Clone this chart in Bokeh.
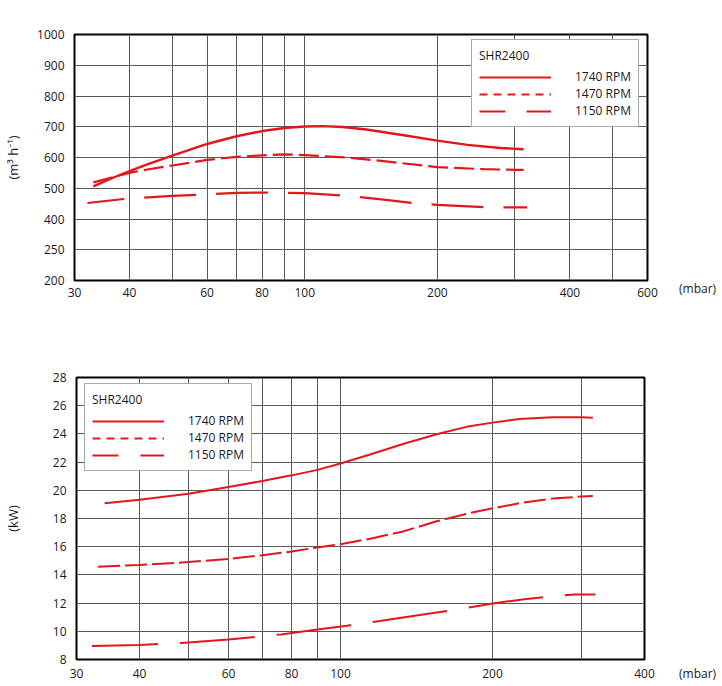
from bokeh.plotting import figure
from bokeh.models import FixedTicker, Legend, LegendItem, Div
from bokeh.layouts import column, row
from bokeh.embed import file_html
from bokeh.resources import INLINE

# flow curves (pressure in mbar, flow in m3/h)
flow_p_1740 = [33.1, 36.8, 40, 43.9, 50, 60, 70, 80, 90, 100, 110, 122, 138, 165, 200, 234, 278, 314]
flow_1740 = [506, 535, 556, 578, 606, 644, 669, 686, 696, 701, 702, 699, 691, 674, 655, 641, 631, 627]
flow_p_1470 = [33.1, 40, 43.9, 50, 60, 70, 80, 90, 100, 127, 151, 200, 255, 300, 314]
flow_1470 = [519, 550, 561, 574, 592, 602, 607, 610, 608, 599, 588, 569, 562, 560, 560]
flow_p_1150 = [32.1, 38.8, 50, 60, 70, 80, 100, 123, 151, 179, 200, 260, 300, 320]
flow_1150 = [452, 465, 475, 480, 485, 486, 484, 476, 463, 451, 446, 438, 438, 438]

# power curves (pressure in mbar, power in kW)
kw_p_1740 = [34.1, 40, 50, 60, 70, 80, 90, 100, 114, 133, 155, 180, 200, 226, 263, 300, 316]
kw_1740 = [19.08, 19.33, 19.76, 20.23, 20.66, 21.06, 21.45, 21.9, 22.52, 23.28, 23.98, 24.55, 24.8, 25.06, 25.18, 25.18, 25.15]
kw_p_1470 = [33.1, 40, 50, 60, 70, 80, 90, 100, 114, 133, 155, 180, 200, 226, 263, 300, 316]
kw_1470 = [14.58, 14.7, 14.91, 15.13, 15.4, 15.66, 15.95, 16.18, 16.55, 17.08, 17.8, 18.38, 18.72, 19.08, 19.41, 19.56, 19.6]
kw_p_1150 = [32.2, 40, 43.5, 48.4, 60, 68.6, 76.3, 90, 103, 119.6, 143.5, 169.6, 188.7, 200, 229, 262, 291, 320]
kw_1150 = [8.96, 9.03, 9.1, 9.17, 9.41, 9.62, 9.78, 10.12, 10.4, 10.73, 11.15, 11.55, 11.81, 11.97, 12.26, 12.47, 12.61, 12.61]

series_names = ["1740 RPM", "1470 RPM", "1150 RPM"]
model_name = "SHR2400"
x_unit = "(mbar)"

# tick values and labels
top_xticks = [30, 40, 50, 60, 70, 80, 90, 100, 200, 300, 400, 500, 600]
top_xlabels = ["30", "40", "", "60", "", "80", "", "100", "200", "", "400", "", "600"]
top_yticks = [200, 300, 400, 500, 600, 700, 800, 900, 1000]
top_ylabels = ["200", "250", "400", "500", "600", "700", "800", "900", "1000"]
bot_xticks = [30, 40, 50, 60, 70, 80, 90, 100, 200, 300, 400]
bot_xlabels = ["30", "40", "", "60", "", "80", "", "100", "200", "", "400"]
bot_yticks = [8, 10, 12, 14, 16, 18, 20, 22, 24, 26, 28]
bot_ylabels = [str(v) for v in bot_yticks]

RED = "#e3161d"
FONT = "Open Sans"
TXT = "#1a1a1a"
NAN = float("nan")


def style_axes(p, xticks, xlabels, yticks, ylabels, ylabel, label_standoff, x_standoff):
    p.xaxis.ticker = FixedTicker(ticks=xticks)
    p.xaxis.major_label_overrides = dict(zip(xticks, xlabels))
    p.yaxis.ticker = FixedTicker(ticks=yticks)
    p.yaxis.major_label_overrides = dict(zip(yticks, ylabels))
    p.yaxis.axis_label = ylabel
    p.yaxis.axis_label_standoff = label_standoff
    p.yaxis.axis_label_text_font = FONT
    p.yaxis.axis_label_text_font_size = "13px"
    p.yaxis.axis_label_text_font_style = "normal"
    p.yaxis.axis_label_text_color = TXT
    for ax in [p.xaxis, p.yaxis]:
        ax.axis_line_color = None
        ax.major_tick_out = 0
        ax.major_tick_in = 0
        ax.minor_tick_out = 0
        ax.minor_tick_in = 0
        ax.major_label_text_font = FONT
        ax.major_label_text_font_size = "12px"
        ax.major_label_text_color = TXT
    p.xaxis.major_label_standoff = x_standoff
    p.yaxis.major_label_standoff = 10
    p.grid.grid_line_color = "#5a5a5a"
    p.grid.grid_line_width = 1
    p.outline_line_color = "black"
    p.outline_line_width = 2


def add_legend(p, x, y, long_dash):
    # key lines only (nan data), so the key dashes can follow the printed key
    keys = [
        p.line([NAN], [NAN], line_color=RED, line_width=2),
        p.line([NAN], [NAN], line_color=RED, line_width=2, line_dash="8 6"),
        p.line([NAN], [NAN], line_color=RED, line_width=2, line_dash=long_dash),
    ]
    items = [LegendItem(label=n, renderers=[k]) for n, k in zip(series_names, keys)]
    leg = Legend(items=items, location=(x, y), title=model_name)
    leg.title_text_font = FONT
    leg.title_text_font_size = "12px"
    leg.title_text_font_style = "normal"
    leg.title_text_color = TXT
    leg.title_standoff = 4
    leg.label_text_font = FONT
    leg.label_text_font_size = "12px"
    leg.label_text_color = TXT
    leg.glyph_width = 72
    leg.glyph_height = 16
    leg.label_height = 16
    leg.label_standoff = 24
    leg.spacing = 0
    leg.padding = 7
    leg.margin = 0
    leg.border_line_color = "#555555"
    leg.border_line_width = 1
    leg.background_fill_alpha = 1
    p.add_layout(leg)


def unit_div(top):
    # unit text to the right of the x axis labels
    return Div(text=x_unit, width=40, height=16, margin=(top, 0, 0, 3),
               styles={"font-family": FONT, "font-size": "12px", "color": TXT,
                       "line-height": "16px", "white-space": "nowrap"})


# flow chart
p1 = figure(width=676, height=310, x_axis_type="log", x_range=(30, 600),
            y_range=(200, 1000), output_backend="svg", toolbar_location=None,
            min_border_left=74, min_border_right=29, min_border_top=34,
            min_border_bottom=30)
style_axes(p1, top_xticks, top_xlabels, top_yticks, top_ylabels, "(m³ h⁻¹)", 12, 7)
p1.line(flow_p_1740, flow_1740, line_color=RED, line_width=2.4)
p1.line(flow_p_1470, flow_1470, line_color=RED, line_width=2.2, line_dash="20 6")
p1.line(flow_p_1150, flow_1150, line_color=RED, line_width=2.2, line_dash="52 20",
        line_dash_offset=15)
add_legend(p1, 397, 153, "26 21")

# power chart
p2 = figure(width=676, height=375, x_axis_type="log", x_range=(30, 400),
            y_range=(8, 28), output_backend="svg", toolbar_location=None,
            min_border_left=75, min_border_right=32, min_border_top=67,
            min_border_bottom=26)
style_axes(p2, bot_xticks, bot_xlabels, bot_yticks, bot_ylabels, "(kW)", 28, 9)
p2.line(kw_p_1740, kw_1740, line_color=RED, line_width=2)
p2.line(kw_p_1470, kw_1470, line_color=RED, line_width=2, line_dash="22 5")
p2.line(kw_p_1150, kw_1150, line_color=RED, line_width=2, line_dash="75 22",
        line_dash_offset=9)
add_legend(p2, 8, 188, "26 22")

layout = column(row(p1, unit_div(281)), row(p2, unit_div(356)), spacing=0)
open("out.html", "w").write(file_html(layout, INLINE))
